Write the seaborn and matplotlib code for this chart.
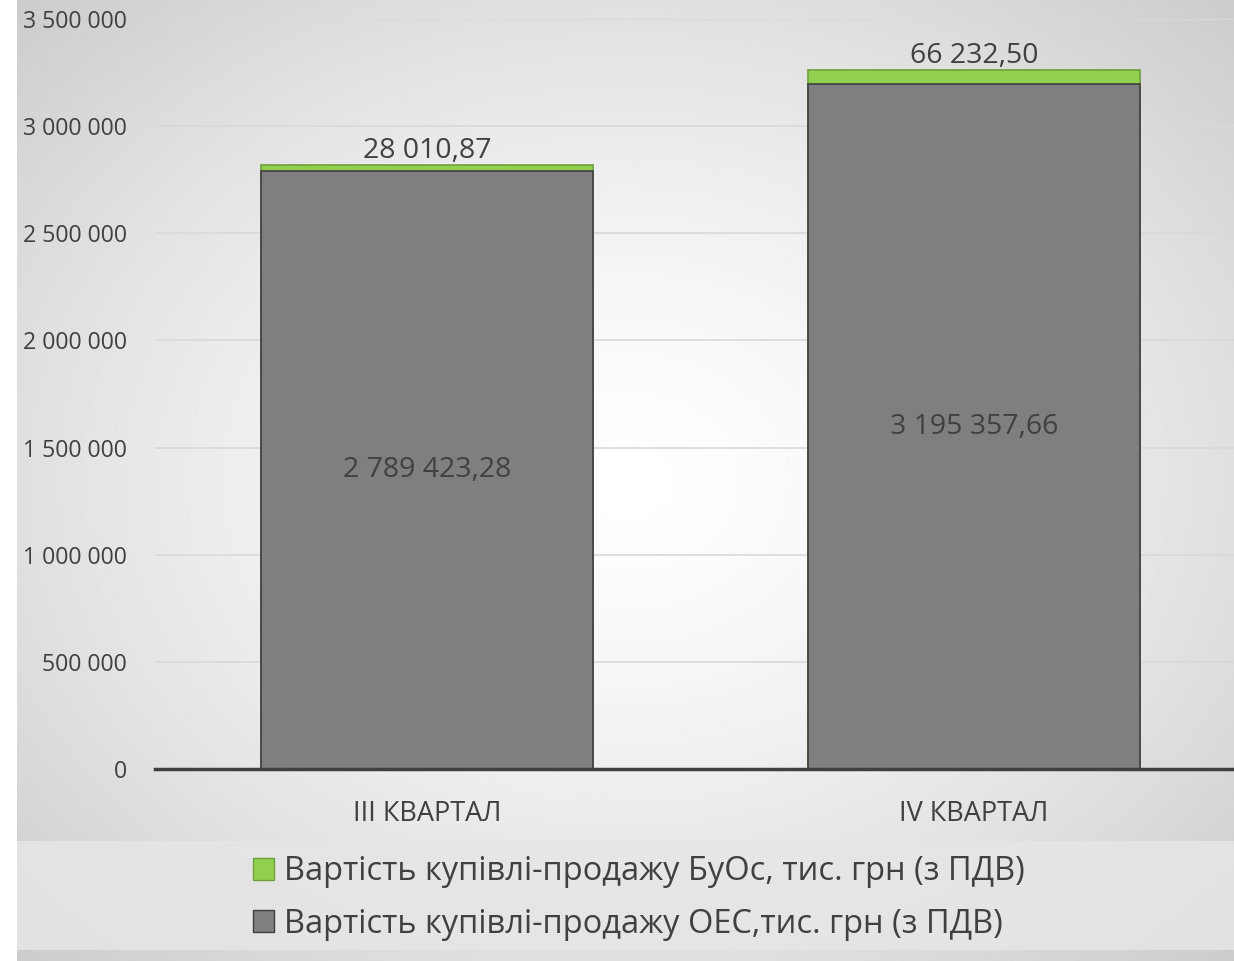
import numpy as np
import pandas as pd
import matplotlib
matplotlib.use("Agg")
import matplotlib.pyplot as plt
from matplotlib.patches import Rectangle, Patch
import seaborn as sns

# chart data
quarters = ["III КВАРТАЛ", "IV КВАРТАЛ"]
oes_values = [2789423.28, 3195357.66]
buos_values = [28010.87, 66232.50]
y_ticks = [0, 500000, 1000000, 1500000, 2000000, 2500000, 3000000, 3500000]
legend_labels = ["Вартість купівлі-продажу БуОс, тис. грн (з ПДВ)",
                 "Вартість купівлі-продажу ОЕС,тис. грн (з ПДВ)"]

GREEN = "#92d050"
GRAY = "#7f7f7f"
TEXT = "#404040"


def fmt_num(v, decimals=2):
    s = f"{v:,.{decimals}f}"
    return s.replace(",", " ").replace(".", ",")


sns.set_theme(style="white")
plt.rcParams["font.family"] = ["Open Sans", "DejaVu Sans"]

df = pd.DataFrame({"quarter": quarters, "oes": oes_values, "buos": buos_values})
df["total"] = df["oes"] + df["buos"]

W, H = 1234, 961
fig = plt.figure(figsize=(W / 100, H / 100), dpi=100)
fig.patch.set_facecolor("white")

# radial gradient background
bg = fig.add_axes([17 / W, 0, 1 - 17 / W, 1], zorder=-2)
yy, xx = np.mgrid[0:1:400j, 0:1:500j]
r = np.sqrt(((xx - 0.5) / 0.72) ** 2 + ((yy - 0.5) / 0.72) ** 2)
grad = 1.0 - 0.2 * np.clip(r / 0.98, 0, 1) ** 1.4
bg.imshow(grad, cmap="gray", vmin=0, vmax=1, aspect="auto",
          extent=[0, 1, 0, 1], interpolation="bilinear")
bg.set_axis_off()

# legend band
fig.patches.append(Rectangle((17 / W, 1 - 950 / H), 1 - 17 / W, 109 / H,
                             transform=fig.transFigure, facecolor="#e6e6e6",
                             edgecolor="none", alpha=0.85, zorder=-1))

ax = fig.add_axes([155 / W, 1 - 769 / H, 1 - 155 / W, 750 / H])
ax.set_facecolor("none")

sns.barplot(data=df, x="quarter", y="total", color=GREEN, width=0.607,
            saturation=1, edgecolor="#6f9f3a", linewidth=1.2, ax=ax)
sns.barplot(data=df, x="quarter", y="oes", color=GRAY, width=0.607,
            saturation=1, edgecolor="#3f3f3f", linewidth=1.2, ax=ax)

ax.set_ylim(0, 3500000)
ax.set_xlim(-0.497, 1.475)
ax.set_yticks(y_ticks)
ax.set_yticklabels([fmt_num(t, 0) for t in y_ticks])
ax.yaxis.grid(True, color="#d9d9d9", linewidth=1.2)
ax.set_axisbelow(True)
ax.set_xlabel("")
ax.set_ylabel("")
for side in ["top", "right", "left"]:
    ax.spines[side].set_visible(False)
ax.spines["bottom"].set_color(TEXT)
ax.spines["bottom"].set_linewidth(2.5)
ax.tick_params(axis="y", length=0, pad=20, labelsize=16.7, labelcolor=TEXT)
ax.tick_params(axis="x", length=0, pad=22, labelsize=19.5, labelcolor=TEXT)

for i, row in df.iterrows():
    ax.text(i, row["oes"] / 2, fmt_num(row["oes"]), ha="center", va="center",
            fontsize=20.5, color=TEXT)
    ax.text(i, row["total"] + 2000, fmt_num(row["buos"]), ha="center",
            va="bottom", fontsize=20.5, color=TEXT)

handles = [Patch(facecolor=GREEN, edgecolor="#6f9f3a"),
           Patch(facecolor=GRAY, edgecolor="#3f3f3f")]
fig.legend(handles, legend_labels, loc="center", bbox_to_anchor=(639 / W, 1 - 898 / H),
           ncol=1, frameon=False, fontsize=23.5, labelcolor=TEXT,
           handlelength=0.65, handleheight=0.65, handletextpad=0.3,
           labelspacing=0.6, borderpad=0)

fig.savefig("out.png", dpi=100)
